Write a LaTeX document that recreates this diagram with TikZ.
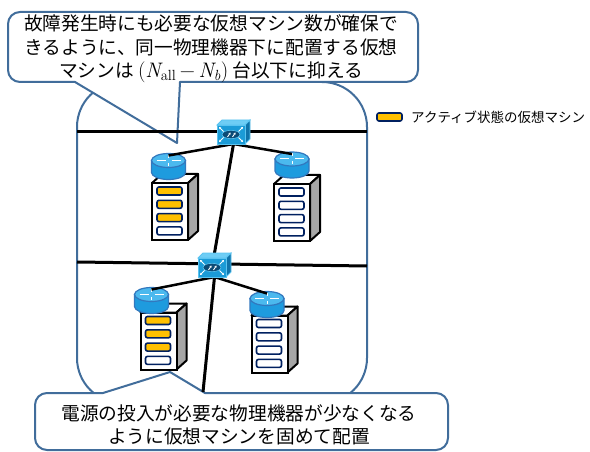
\documentclass[tikz,border=0pt]{standalone}
\usepackage{fontspec}
\newfontfamily\jpfont{Noto Sans CJK JP}
\usetikzlibrary{arrows.meta}

\definecolor{calloutblue}{RGB}{65,109,155}
\definecolor{vmactive}{RGB}{255,192,0}
\definecolor{vmedge}{RGB}{0,32,96}
\definecolor{rackside}{RGB}{166,166,166}
\definecolor{swfront}{RGB}{27,155,215}
\definecolor{swtop}{RGB}{110,205,245}
\definecolor{swside}{RGB}{15,115,170}
\definecolor{swedge}{RGB}{90,195,240}
\definecolor{swcore}{RGB}{12,75,118}
\definecolor{rtbody}{RGB}{30,155,222}
\definecolor{rttop}{RGB}{75,185,238}
\definecolor{rtedge}{RGB}{50,120,190}

% serif formula set in the text font so that it scales with the callout text
\newcommand\formulavar[1]{{\rmfamily\itshape #1}}
\newcommand\formulaspan[1]{{\rmfamily\fontsize{21}{23.5}\selectfont #1}}

\tikzset{
  callout/.style={draw=calloutblue, line width=2pt, line join=round, line cap=round},
  wire/.style={draw=black, line width=3pt},
  link/.style={draw=black, line width=2.5pt},
  slot/.style={draw=vmedge, line width=1.6pt, rounded corners=2pt},
  swnode/.style={inner sep=0pt, outer sep=0pt, minimum width=33pt, minimum height=24pt},
  rtnode/.style={inner sep=0pt, outer sep=0pt, minimum width=34pt, minimum height=26pt},
  bigtext/.style={font=\jpfont\fontsize{18.7}{23.5}\selectfont, align=center, inner sep=0pt},
  % rack server with four VM slots, origin at the centre of the front face
  pics/server/.style n args={4}{code={
    \filldraw[fill=white, draw=black, line width=2pt, line join=round]
      (-18,-28.5) -- (-8,-37.5) -- (28,-37.5) -- (18,-28.5) -- cycle;
    \filldraw[fill=rackside, draw=black, line width=2pt, line join=round]
      (18,-28.5) -- (28,-37.5) -- (28,19.5) -- (18,28.5) -- cycle;
    \filldraw[fill=white, draw=black, line width=2pt] (-18,-28.5) rectangle (18,28.5);
    \filldraw[slot, fill=#1] (-13,-24.5) rectangle (12,-16.5);
    \filldraw[slot, fill=#2] (-13,-11.2) rectangle (12,-3.2);
    \filldraw[slot, fill=#3] (-13,2.1) rectangle (12,10.1);
    \filldraw[slot, fill=#4] (-13,15.4) rectangle (12,23.4);
  }},
  % cylindrical router symbol
  pics/router/.style={code={
    \filldraw[fill=rtbody, draw=rtedge, line width=1.2pt]
      (-17,-6) -- (-17,6) arc[start angle=180, end angle=360, x radius=17pt, y radius=7pt]
      -- (17,-6) -- cycle;
    \filldraw[fill=rttop, draw=rtedge, line width=1.2pt] (0,-6) ellipse[x radius=17pt, y radius=7pt];
    \draw[white, line width=1pt] (-12,-6) -- (-3,-6) (3,-6) -- (12,-6)
      (0,-11.5) -- (0,-8.5) (0,-3.5) -- (0,-0.5);
  }},
  % layer-2 switch symbol
  pics/switchbox/.style={code={
    \filldraw[fill=swtop, draw=swedge, line width=0.8pt]
      (-16.5,-7) -- (-11.5,-12) -- (16.5,-12) -- (11.5,-7) -- cycle;
    \filldraw[fill=swside, draw=swedge, line width=0.8pt]
      (11.5,-7) -- (16.5,-12) -- (16.5,7) -- (11.5,12) -- cycle;
    \filldraw[fill=swfront, draw=swedge, line width=0.8pt] (-16.5,-7) rectangle (11.5,12);
    \filldraw[fill=swcore, draw=swedge, line width=0.6pt] (-2.5,2.5) ellipse[x radius=9pt, y radius=4.2pt];
    \draw[white, line width=0.9pt, -{Stealth[length=2pt,width=2.4pt]}] (-6,5) -- (-3,0.5);
    \draw[white, line width=0.9pt, -{Stealth[length=2pt,width=2.4pt]}] (-1,5) -- (2,0.5);
    \draw[white, line width=0.8pt, -{Stealth[length=2pt,width=2.4pt]}] (-10,-0.5) -- (-14.5,-5);
    \draw[white, line width=0.8pt, -{Stealth[length=2pt,width=2.4pt]}] (5,-0.5) -- (9.5,-5);
    \draw[white, line width=0.8pt, -{Stealth[length=2pt,width=2.4pt]}] (-10,5.5) -- (-14.5,10);
    \draw[white, line width=0.8pt, -{Stealth[length=2pt,width=2.4pt]}] (5,5.5) -- (9.5,10);
  }}
}

\begin{document}
\begin{tikzpicture}[x=1pt, y=-1pt]
\useasboundingbox (0,0) rectangle (590,452);

% zone of consolidated physical machines
\draw[callout, rounded corners=45pt] (77,82) rectangle (367,403);

% upper callout
\fill[white, rounded corners=12pt] (8,12) rectangle (418,82);
\fill[white] (75,82) -- (177,143) -- (180,82) -- cycle;
\draw[callout, rounded corners=12pt] (75,82) -- (8,82) -- (8,12) -- (418,12) -- (418,82) -- (180,82);
\draw[callout] (75,82) -- (177,143) -- (180,82);
\node[bigtext] (topnote) at (211,49)
  {故障発生時にも必要な仮想マシン数が確保で\\
   きるように、同一物理機器下に配置する仮想\\
   マシンは \formulaspan{(\formulavar{N}\textsubscript{all}\,−\,\formulavar{N}\textsubscript{\itshape b})} 台以下に抑える};

% lower callout
\fill[white, rounded corners=12pt] (35,393) rectangle (448,450);
\fill[white] (103,393) -- (170,372) -- (205,393) -- cycle;
\draw[callout, rounded corners=12pt] (103,393) -- (35,393) -- (35,450) -- (448,450) -- (448,393) -- (205,393);
\draw[callout] (103,393) -- (170,372) -- (205,393);
\node[bigtext] (botnote) at (239,425)
  {電源の投入が必要な物理機器が少なくなる\\
   ように仮想マシンを固めて配置};

% legend
\node[slot, fill=vmactive, minimum width=25pt, minimum height=8pt, inner sep=0pt] (legendswatch) at (389.5,117) {};
\node[anchor=west, inner sep=0pt, font=\jpfont\fontsize{13.5}{16}\selectfont] (legendtext) at (411,117)
  {アクティブ状態の仮想マシン};

% device anchors
\node[swnode] (sw1) at (233.5,132) {};
\node[swnode] (sw2) at (214.5,265) {};
\node[rtnode] (r1) at (168.5,166.5) {};
\node[rtnode] (r2) at (292,165) {};
\node[rtnode] (r3) at (151.5,300.5) {};
\node[rtnode] (r4) at (267,304.5) {};

% network segments
\coordinate (seg1w) at (77,132);
\coordinate (seg1e) at (367,132);
\coordinate (seg2w) at (77,262);
\coordinate (seg2e) at (367,266);
\coordinate (trunkend) at (203,392);
\draw[wire] (seg1w) -- (seg1e);
\draw[wire] (seg2w) -- (seg2e);
\draw[wire] (sw1.south) -- (sw2.north);
\draw[wire] (sw2.south) -- (trunkend);

% physical servers
\pic at (170,211.5) {server={vmactive}{vmactive}{vmactive}{white}};
\pic at (292,212.5) {server={white}{white}{white}{white}};
\pic at (158.5,341) {server={vmactive}{vmactive}{vmactive}{white}};
\pic at (269.5,344) {server={white}{white}{white}{white}};

% routers on top of the servers
\pic at (r1.center) {router};
\pic at (r2.center) {router};
\pic at (r3.center) {router};
\pic at (r4.center) {router};

% switch to router links
\draw[link] (sw1.south) -- ([yshift=-2pt]r1.north);
\draw[link] (sw1.south) -- ([yshift=-2pt]r2.north);
\draw[link] (sw2.south) -- ([yshift=-2pt]r3.north);
\draw[link] (sw2.south) -- ([yshift=-2pt]r4.north);

% switches
\pic at (sw1.center) {switchbox};
\pic at (sw2.center) {switchbox};
\end{tikzpicture}
\end{document}
